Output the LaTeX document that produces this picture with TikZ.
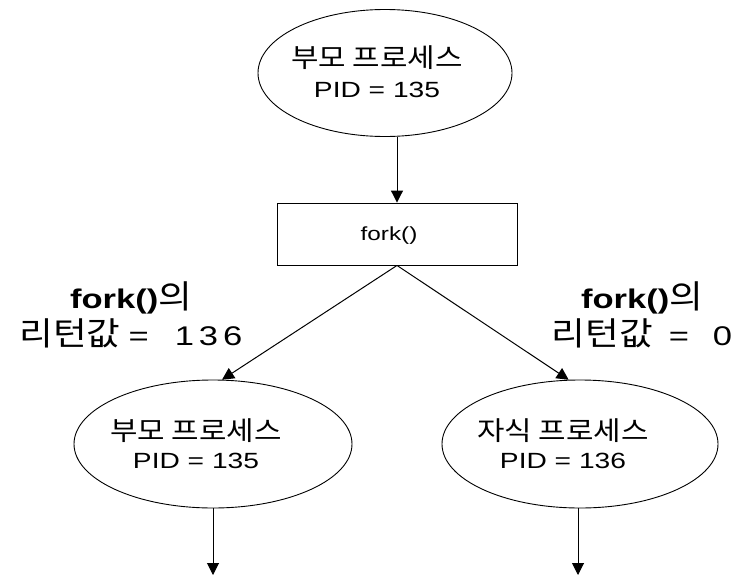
\documentclass[tikz,border=0pt]{standalone}
\usepackage{fontspec}
\setmainfont{Liberation Sans}[FakeStretch=1.28]
\newfontfamily\kr{Noto Sans CJK KR}[Scale=1.2,FakeStretch=1.13]
\usetikzlibrary{shapes.geometric,arrows.meta}
\tikzset{
  proc/.style={draw, ellipse, line width=0.9pt, inner sep=0pt},
  fbox/.style={draw, rectangle, line width=0.9pt, inner sep=0pt, minimum width=240pt, minimum height=62pt},
  conn/.style={line width=1pt, -{Triangle[length=12pt,width=12pt]}},
  ptext/.style={align=center, inner sep=0pt, font=\fontsize{22}{30}\selectfont},
  lbl/.style={align=center, inner sep=0pt, font=\fontsize{27}{37}\selectfont}
}
\begin{document}
\begin{tikzpicture}[x=1pt,y=-1pt]
\useasboundingbox (0,0) rectangle (739,576);
% top parent
\node[proc, minimum width=254pt, minimum height=127pt] (top) at (385,73) {};
\node[ptext] (toptxt) at (377,72) {{\kr 부모 프로세스}\\PID = 135};
% fork box
\node[fbox] (box) at (397,234) {};
\node[inner sep=0pt, font=\fontsize{19}{22}\selectfont] (boxtxt) at (389,236) {fork()};
% lower ellipses
\node[proc, minimum width=278pt, minimum height=128pt] (lp) at (213,444) {};
\node[ptext, font=\fontsize{22}{28}\selectfont] (lptxt) at (196,444) {{\kr 부모 프로세스}\\PID = 135};
\node[proc, minimum width=276pt, minimum height=128pt] (cp) at (580,444) {};
\node[ptext, font=\fontsize{22}{28}\selectfont] (cptxt) at (563,444) {{\kr 자식 프로세스}\\PID = 136};
% labels
\node[lbl] (llbl) at (131,315) {\textbf{fork()}{\kr 의}\\{\kr 리턴값}\hspace{8pt}=\hspace{26pt}1\hspace{5pt}3\hspace{5pt}6};
\node[lbl] (rlbl) at (642,315) {\textbf{fork()}{\kr 의}\\{\kr 리턴값}\hspace{16pt}=\hspace{24pt}0};
% end coordinates
\coordinate (lend) at (213,575);
\coordinate (rend) at (578,575);
% connectors
\draw[conn] (top.south -| box.north) -- (box.north);
\draw[conn] (box.south) -- (lp.82);
\draw[conn] (box.south) -- (cp.100);
\draw[conn] (lp.south) -- (lend);
\draw[conn] (cp.south -| rend) -- (rend);
\end{tikzpicture}
\end{document}
